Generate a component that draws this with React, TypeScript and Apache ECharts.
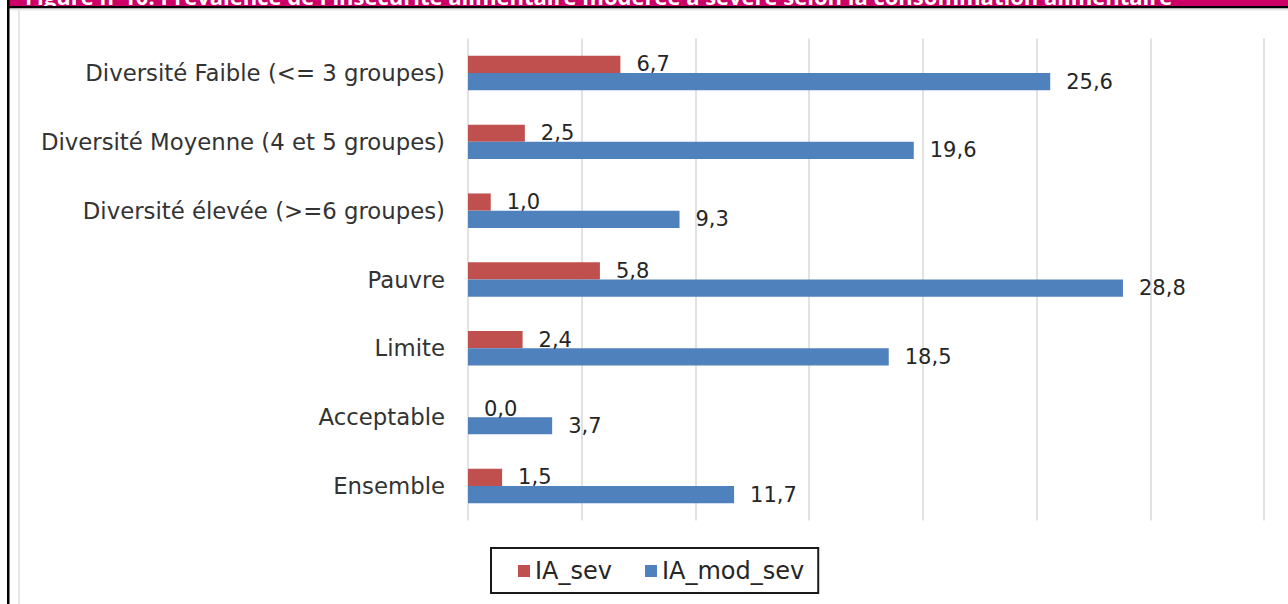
import React, { useEffect, useRef } from "react";
import * as echarts from "echarts";

const categories = [
  "Diversité Faible (<= 3 groupes)",
  "Diversité Moyenne (4 et 5 groupes)",
  "Diversité élevée (>=6 groupes)",
  "Pauvre",
  "Limite",
  "Acceptable",
  "Ensemble",
];
const iaSev = [6.7, 2.5, 1.0, 5.8, 2.4, 0.0, 1.5];
const iaModSev = [25.6, 19.6, 9.3, 28.8, 18.5, 3.7, 11.7];
const seriesNames = ["IA_sev", "IA_mod_sev"];
const titleText =
  "Figure n°10: Prévalence de l'insécurité alimentaire modérée à sévère selon la consommation alimentaire";

const fmt = (v: number) => v.toFixed(1).replace(".", ",");
const FONT = "'DejaVu Sans', 'Open Sans', sans-serif";

export default function App() {
  const ref = useRef<HTMLDivElement>(null);
  useEffect(() => {
    if (!ref.current) return;
    const chart = echarts.init(ref.current, null, { renderer: "svg" });
    const valueLabel = {
      show: true,
      position: "right" as const,
      distance: 16,
      fontFamily: FONT,
      fontSize: 21,
      color: "#262626",
      formatter: (p: any) => fmt(p.value),
    };
    chart.setOption({
      animation: false,
      backgroundColor: "#ffffff",
      grid: { left: 468, right: 24, top: 38.6, bottom: 83.6, containLabel: false },
      xAxis: {
        type: "value",
        min: 0,
        max: 35,
        interval: 5,
        axisLabel: { show: false },
        axisLine: { show: false },
        axisTick: { show: false },
        splitLine: { show: true, lineStyle: { color: "#d9d9d9", width: 1.5 } },
      },
      yAxis: {
        type: "category",
        data: categories,
        inverse: true,
        axisLine: { show: false },
        axisTick: { show: false },
        axisLabel: {
          margin: 23,
          fontFamily: FONT,
          fontSize: 22.8,
          color: "#333333",
        },
      },
      legend: {
        data: seriesNames,
        left: 491,
        top: 548,
        orient: "horizontal",
        borderColor: "#1a1a1a",
        borderWidth: 2,
        padding: [10, 14, 9, 27],
        itemWidth: 12,
        itemHeight: 12,
        itemGap: 33,
        icon: "rect",
        textStyle: {
          fontFamily: FONT,
          fontSize: 24,
          lineHeight: 26,
          color: "#262626",
        },
      },
      series: [
        {
          name: seriesNames[0],
          type: "bar",
          data: iaSev,
          barGap: "0%",
          barCategoryGap: "50%",
          itemStyle: { color: "#C0504D" },
          label: valueLabel,
        },
        {
          name: seriesNames[1],
          type: "bar",
          data: iaModSev,
          barGap: "0%",
          barCategoryGap: "50%",
          itemStyle: { color: "#4F81BD" },
          label: valueLabel,
        },
      ],
      graphic: [
        {
          type: "rect",
          shape: { x: 8, y: 0, width: 1280, height: 6.5 },
          style: { fill: "#CC0066" },
          silent: true,
        },
        {
          type: "text",
          x: 25,
          y: 7,
          style: {
            text: titleText,
            fill: "#ffffff",
            fontFamily: "'Open Sans', sans-serif",
            fontWeight: "bold",
            fontSize: 22,
            verticalAlign: "bottom",
          },
          silent: true,
        },
        {
          type: "rect",
          shape: { x: 8, y: 6, width: 1280, height: 2.5 },
          style: { fill: "#000000" },
          silent: true,
        },
        {
          type: "rect",
          shape: { x: 10, y: 8.5, width: 1278, height: 2 },
          style: { fill: "#e6e6e6" },
          silent: true,
        },
        {
          type: "rect",
          shape: { x: 7, y: 0, width: 2.5, height: 604 },
          style: { fill: "#000000" },
          silent: true,
        },
        {
          type: "rect",
          shape: { x: 18, y: 10, width: 2, height: 594 },
          style: { fill: "#e6e6e6" },
          silent: true,
        },
      ],
    });
    return () => chart.dispose();
  }, []);
  return (
    <div
      ref={ref}
      style={{ position: "absolute", left: 0, top: 0, width: 1288, height: 604 }}
    />
  );
}
